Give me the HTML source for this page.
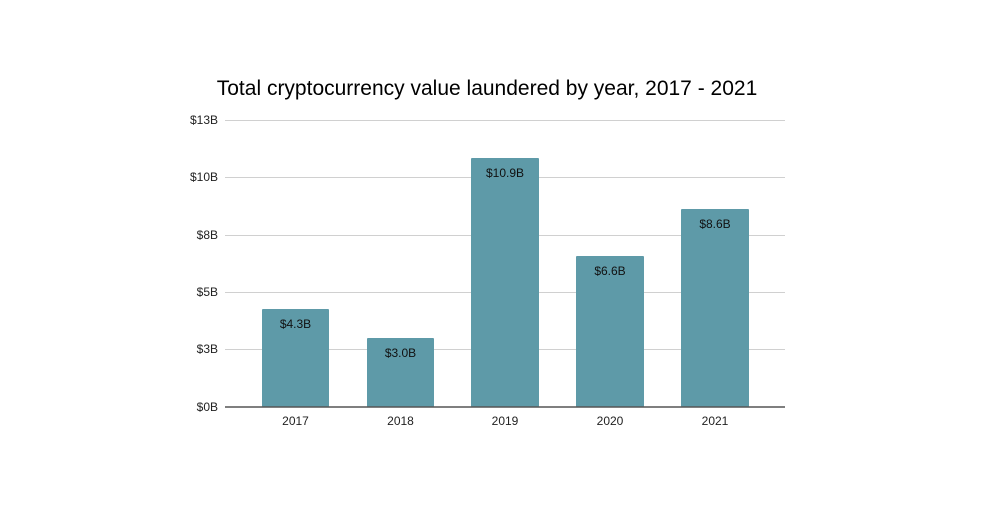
<!DOCTYPE html>
<html><head><meta charset="utf-8"><style>
body{margin:0;background:#fff;}
svg{display:block;font-family:"Liberation Sans",Arial,sans-serif;}
</style></head><body>
<svg width="1000" height="507" viewBox="0 0 1000 507">
<text x="487" y="95" font-size="21" text-anchor="middle" fill="#000">Total cryptocurrency value laundered by year, 2017 - 2021</text>
<g stroke="#d0d0d0" stroke-width="1">
<line x1="225" x2="785" y1="120.5" y2="120.5"/>
<line x1="225" x2="785" y1="177.5" y2="177.5"/>
<line x1="225" x2="785" y1="235.5" y2="235.5"/>
<line x1="225" x2="785" y1="292.5" y2="292.5"/>
<line x1="225" x2="785" y1="349.5" y2="349.5"/>
</g>
<g font-size="12" fill="#222" text-anchor="end">
<text x="218" y="124">$13B</text>
<text x="218" y="181">$10B</text>
<text x="218" y="239">$8B</text>
<text x="218" y="296">$5B</text>
<text x="218" y="353">$3B</text>
<text x="218" y="411">$0B</text>
</g>
<g fill="#5e9aa8">
<rect x="262" y="309" width="67" height="98" rx="1"/>
<rect x="367" y="338" width="67" height="69" rx="1"/>
<rect x="471" y="158" width="68" height="249" rx="1"/>
<rect x="576" y="256" width="68" height="151" rx="1"/>
<rect x="681" y="209" width="68" height="198" rx="1"/>
</g>
<line x1="225" x2="785" y1="407" y2="407" stroke="#555" stroke-width="1.5"/>
<g font-size="12" fill="#111" text-anchor="middle">
<text x="295.5" y="328">$4.3B</text>
<text x="400.5" y="357">$3.0B</text>
<text x="505" y="177">$10.9B</text>
<text x="610" y="275">$6.6B</text>
<text x="715" y="228">$8.6B</text>
</g>
<g font-size="12" fill="#222" text-anchor="middle">
<text x="295.5" y="425">2017</text>
<text x="400.5" y="425">2018</text>
<text x="505" y="425">2019</text>
<text x="610" y="425">2020</text>
<text x="715" y="425">2021</text>
</g>
</svg>
</body></html>
